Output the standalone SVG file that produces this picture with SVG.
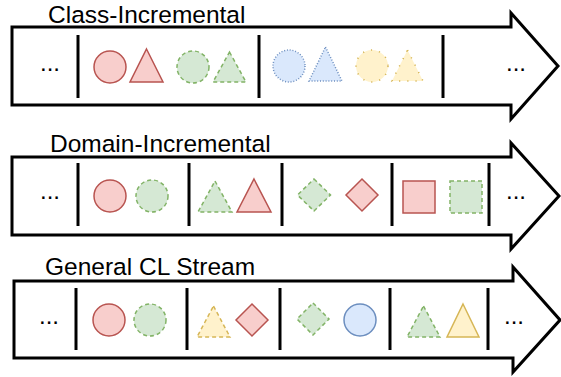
<svg xmlns="http://www.w3.org/2000/svg" width="561" height="377" viewBox="0 0 561 377">
<style>
.arrow{fill:#fff;stroke:#000;stroke-width:3;stroke-linejoin:miter;stroke-miterlimit:10}
.div{stroke:#000;stroke-width:3;fill:none}
.title{font-family:"Liberation Sans",Arial,sans-serif;font-size:24.5px;fill:#000}
.dots{font-family:"Liberation Sans",Arial,sans-serif;font-size:24px;fill:#000;text-anchor:middle}
.red{fill:#f8cecc;stroke:#b85450;stroke-width:1.5}
.green{fill:#d5e8d4;stroke:#82b366;stroke-width:1.5;stroke-dasharray:4 3}
.blue{fill:#dae8fc;stroke:#6c8ebf;stroke-width:1.5}
.blued{fill:#dae8fc;stroke:#6c8ebf;stroke-width:1.5;stroke-dasharray:1 1.8}
.yellow{fill:#fff2cc;stroke:#d6b656;stroke-width:1.5}
.yellowd{fill:#fff2cc;stroke:#d6b656;stroke-width:1.5;stroke-dasharray:4 3}
.yellowdot{fill:#fff2cc;stroke:#d6b656;stroke-width:1.5;stroke-dasharray:1.2 7}
</style>
<g id="connectors"></g>

<g id="class-incremental">
  <text class="title" x="48" y="22.5">Class-Incremental</text>
  <polygon class="arrow" points="12,27 511,27 511,13 558,66 511,119 511,105 12,105"/>
  <line class="div" x1="78" y1="35" x2="78" y2="98"/>
  <line class="div" x1="259" y1="35" x2="259" y2="98"/>
  <line class="div" x1="443" y1="35" x2="443" y2="98"/>
  <text class="dots" x="50" y="71">...</text>
  <text class="dots" x="516" y="71">...</text>
  <g id="c1-red-circle"><circle class="red" cx="110" cy="67" r="16"/></g>
  <g id="c1-red-tri"><polygon class="red" points="146.5,49 163,82 130,82"/></g>
  <g id="c1-green-circle"><circle class="green" cx="193" cy="67" r="16"/></g>
  <g id="c1-green-tri"><polygon class="green" points="229.5,52 246,82 213,82"/></g>
  <g id="c1-blue-circle"><circle class="blued" cx="289" cy="66" r="16"/></g>
  <g id="c1-blue-tri"><polygon class="blued" points="325.5,47 342,81 309,81"/></g>
  <g id="c1-yellow-circle"><circle class="yellowdot" cx="372" cy="66" r="16"/></g>
  <g id="c1-yellow-tri"><polygon class="yellowdot" points="407.5,50 423,81 392,81"/></g>
</g>

<g id="domain-incremental">
  <text class="title" x="50" y="152">Domain-Incremental</text>
  <polygon class="arrow" points="12,157 511,157 511,143 559,196 511,249 511,235 12,235"/>
  <line class="div" x1="78" y1="163" x2="78" y2="226"/>
  <line class="div" x1="189" y1="163" x2="189" y2="226"/>
  <line class="div" x1="282" y1="163" x2="282" y2="226"/>
  <line class="div" x1="392" y1="163" x2="392" y2="226"/>
  <line class="div" x1="489" y1="163" x2="489" y2="226"/>
  <text class="dots" x="50" y="199">...</text>
  <text class="dots" x="516" y="199">...</text>
  <g id="d-red-circle"><circle class="red" cx="110" cy="196" r="16"/></g>
  <g id="d-green-circle"><circle class="green" cx="152" cy="196" r="16"/></g>
  <g id="d-green-tri"><polygon class="green" points="215,181 232,212 198,212"/></g>
  <g id="d-red-tri"><polygon class="red" points="254,179 271,212 237,212"/></g>
  <g id="d-green-diamond"><polygon class="green" points="314,179 330.5,195 314,211 297.5,195"/></g>
  <g id="d-red-diamond"><polygon class="red" points="362,179 378,195 362,211 346,195"/></g>
  <g id="d-red-square"><rect class="red" x="403" y="181" width="32" height="32"/></g>
  <g id="d-green-square"><rect class="green" x="450" y="181" width="32" height="32"/></g>
</g>

<g id="general-cl-stream">
  <text class="title" x="45" y="275">General CL Stream</text>
  <polygon class="arrow" points="14,281 513,281 513,267 560,320 513,372 513,358 14,358"/>
  <line class="div" x1="76" y1="288" x2="76" y2="350"/>
  <line class="div" x1="187" y1="288" x2="187" y2="350"/>
  <line class="div" x1="280" y1="288" x2="280" y2="350"/>
  <line class="div" x1="390" y1="288" x2="390" y2="350"/>
  <line class="div" x1="488" y1="288" x2="488" y2="350"/>
  <text class="dots" x="49" y="324">...</text>
  <text class="dots" x="514" y="324">...</text>
  <g id="g-red-circle"><circle class="red" cx="109" cy="320" r="16"/></g>
  <g id="g-green-circle"><circle class="green" cx="150" cy="320" r="16"/></g>
  <g id="g-yellow-tri"><polygon class="yellowd" points="213.5,306 230,337 197,337"/></g>
  <g id="g-red-diamond"><polygon class="red" points="252,304 268,320 252,336 236,320"/></g>
  <g id="g-green-diamond"><polygon class="green" points="313,303 329,319 313,335 297,319"/></g>
  <g id="g-blue-circle"><circle class="blue" cx="360" cy="320" r="16"/></g>
  <g id="g-green-tri"><polygon class="green" points="423.5,306 440,337 407,337"/></g>
  <g id="g-yellow-tri2"><polygon class="yellow" points="463,304 479,337 447,337"/></g>
</g>
</svg>
